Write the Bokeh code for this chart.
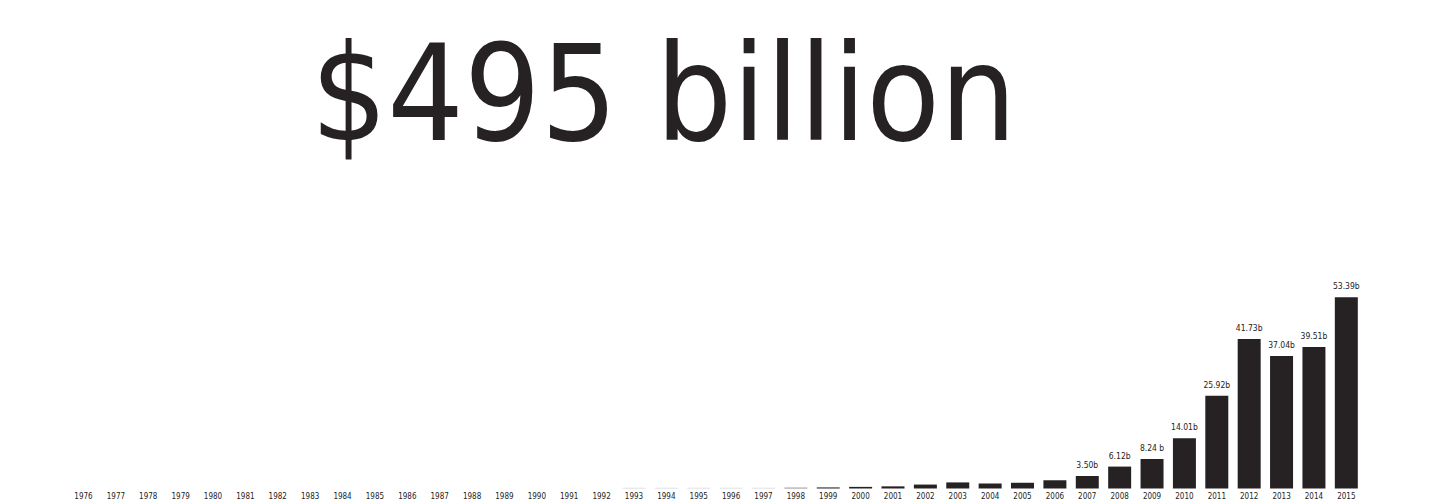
from bokeh.plotting import figure
from bokeh.models import ColumnDataSource, Range1d, Label
from bokeh.core.properties import value
from bokeh.embed import file_html
from bokeh.resources import INLINE

years = list(range(1976, 2016))
amounts = [0, 0, 0, 0, 0, 0, 0, 0, 0, 0, 0, 0, 0, 0, 0, 0, 0,
           0.2, 0.2, 0.2, 0.2, 0.2, 0.25, 0.3, 0.45, 0.6, 1.1, 1.7, 1.4, 1.6, 2.3,
           3.50, 6.12, 8.24, 14.01, 25.92, 41.73, 37.04, 39.51, 53.39]
value_labels = [""] * 31 + ["3.50b", "6.12b", "8.24 b", "14.01b", "25.92b",
                            "41.73b", "37.04b", "39.51b", "53.39b"]
headline = "$495 billion"

DARK = "#262223"
colors = ["#d4d4d4" if 1993 <= y <= 1997 else ("#8a8a8a" if y == 1998 else DARK)
          for y in years]

src = ColumnDataSource(dict(
    x=years, top=amounts, color=colors,
    year=[str(y) for y in years], vlabel=value_labels,
))

px_per_b = 3.58
base_px = 15
W, H = 1437, 503
x0 = 1976 - 83 / 32.38
p = figure(width=W, height=H, output_backend="svg", toolbar_location=None,
           x_range=Range1d(x0, x0 + W / 32.38),
           y_range=Range1d(-base_px / px_per_b, (H - base_px) / px_per_b),
           min_border=0, outline_line_color=None)
p.axis.visible = False
p.grid.visible = False
p.background_fill_color = "white"

p.vbar(x="x", top="top", bottom=0, width=0.71, fill_color="color",
       line_color=None, source=src)

font = value("DejaVu Sans Condensed")
p.text(x="x", y=0, text="year", source=src, text_align="center",
       text_baseline="middle", y_offset=7, text_font=font,
       text_font_size="8px", text_color=DARK)
p.text(x="x", y="top", text="vlabel", source=src, text_align="center",
       text_baseline="bottom", y_offset=-6, text_font=font,
       text_font_size="8.5px", text_color=DARK)

p.add_layout(Label(x=663, y=H - 93, x_units="screen", y_units="screen",
                   text=headline, text_align="center",
                   text_baseline="alphabetic",
                   text_font="DejaVu Sans Condensed",
                   text_font_size="134px", text_color=DARK))

open("out.html", "w").write(file_html(p, INLINE))
